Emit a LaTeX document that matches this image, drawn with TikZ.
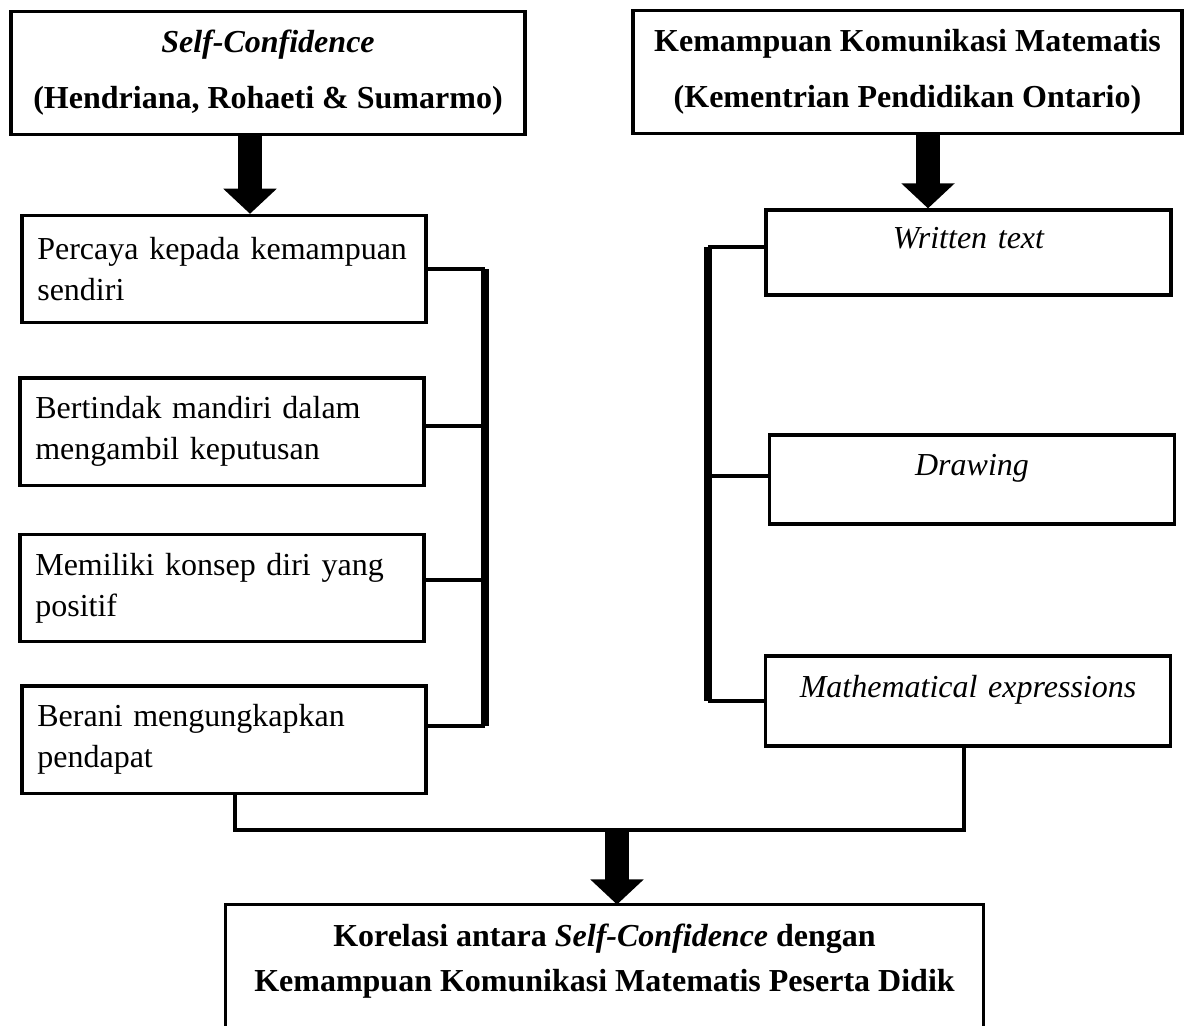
\documentclass[tikz,border=0pt]{standalone}
\usepackage{fontspec}
\setmainfont{Liberation Serif}
\usetikzlibrary{arrows.meta}

\begin{document}
\begin{tikzpicture}[x=0.375pt,y=-0.375pt,
  font=\fontsize{12}{15.4}\selectfont,
  box/.style={draw,line width=1.2pt,inner sep=0pt},
  headbox/.style={box,minimum height=46pt,align=center,font=\bfseries\fontsize{12}{21}\selectfont},
  itembox/.style={box,minimum width=151.5pt,minimum height=40.2pt,text width=140pt,align=left},
  kindbox/.style={box,minimum width=151.9pt,text width=140pt,align=center,font=\itshape\fontsize{12}{15}\selectfont,text height=9pt,text depth=12pt},
  korbox/.style={inner sep=0pt,minimum width=283.9pt,minimum height=42pt,align=center,font=\bfseries\fontsize{12}{16.9}\selectfont},
  link/.style={line width=1.3pt},
  spine/.style={line width=2.8pt},
  fat/.style={line width=9pt,-{Triangle[width=19.5pt,length=9.4pt]}},
]
\useasboundingbox (0,0) rectangle (1187,1025);

% the two sources
\node[headbox,minimum width=192.75pt] (sc) at (268,73) {\textit{Self-Confidence}\\(Hendriana, Rohaeti \& Sumarmo)};
\node[headbox,minimum width=205.9pt] (kkm) at (907.5,72) {Kemampuan Komunikasi Matematis\\(Kementrian Pendidikan Ontario)};

% indicators, left
\node[itembox] (yakin) at (224,269) {Percaya kepada kemampuan\\sendiri};
\node[itembox] (mandiri) at (222,431.5) {Bertindak mandiri dalam\\mengambil keputusan};
\node[itembox] (konsep) at (222,588) {Memiliki konsep diri yang\\positif};
\node[itembox] (berani) at (224,739.5) {Berani mengungkapkan\\pendapat};

% indicators, right
\node[kindbox,minimum height=31.9pt] (tulis) at (968.5,252.5) {Written text};
\node[kindbox,minimum height=33.4pt] (gambar) at (972,479.5) {Drawing};
\node[kindbox,minimum height=33.75pt] (ekspresi) at (968,701) {Mathematical expressions};

% result
\node[korbox] (kor) at (604.5,961) {Korelasi antara \textit{Self-Confidence} dengan\\Kemampuan Komunikasi Matematis Peserta Didik};
\draw[line width=1.2pt] ([yshift=-12pt]kor.south west) -- (kor.north west) -- (kor.north east) -- ([yshift=-12pt]kor.south east);

\coordinate (a1) at (250,0);
\coordinate (a2) at (928,0);
\coordinate (lbus) at (485,0);
\coordinate (rbus) at (708,0);
\coordinate (jl) at (235,830);
\coordinate (jr) at (964,830);
\coordinate (ja) at (617,830);

\draw[fat] (a1 |- sc.south) -- (a1 |- yakin.north);
\draw[fat] (a2 |- kkm.south) -- (a2 |- tulis.north);

% brackets
\foreach \n/\s in {yakin/0,mandiri/2,konsep/3,berani/5}
  \draw[link] ([yshift=\s pt]\n.east) coordinate (\n-c) -- (\n-c -| lbus) coordinate (\n-end);
\draw[spine] (yakin-end) -- (berani-end);
\foreach \n/\s in {tulis/2,gambar/1.3,ekspresi/0}
  \draw[link] ([yshift=\s pt]\n.west) coordinate (\n-c) -- (\n-c -| rbus) coordinate (\n-end);
\draw[spine] (tulis-end) -- (ekspresi-end);

% join
\draw[link] (jl |- berani.south) -- (jl) -- (jr) -- (jr |- ekspresi.south);
\draw[fat] (ja) -- (ja |- kor.north);
\end{tikzpicture}
\end{document}
